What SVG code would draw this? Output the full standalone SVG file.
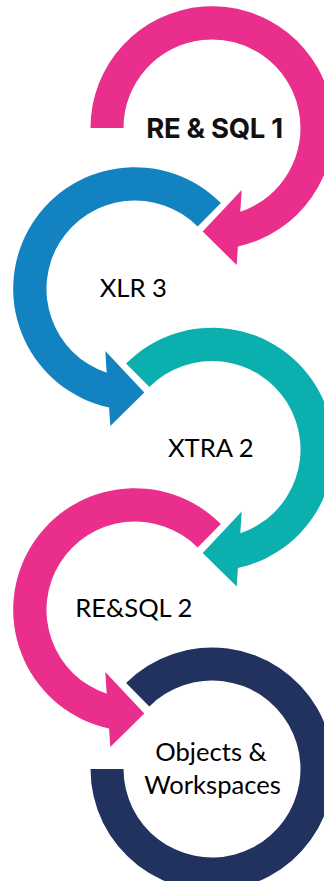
<svg xmlns="http://www.w3.org/2000/svg" xmlns:xlink="http://www.w3.org/1999/xlink" width="324" height="881" viewBox="0 0 324 881">
<style>
.lbl{font-family:Lato,"Open Sans","Liberation Sans",sans-serif;font-size:25.6px;fill:#000;text-anchor:middle}
.bold{font-family:Inter,"Liberation Sans",sans-serif;font-weight:700;font-size:27.5px;fill:#111;text-anchor:middle;letter-spacing:-0.3px}
.pink{fill:#E92E8B}.blue{fill:#1282C0}.teal{fill:#0BAFAE}.navy{fill:#22325F}
</style>
<defs>
<path id="ringR0" d="M -121.5 0 A 121.5 121.5 0 1 1 25.9 118.5 L 24.7 137 L -9.3 103.5 L 29.7 62 L 28.3 83.8 A 88.5 88.5 0 1 0 -88.5 0 Z"/>
<path id="ringR" d="M -85.9 -85.9 A 121.5 121.5 0 1 1 25.9 118.5 L 24.7 137 L -9.3 103.5 L 29.7 62 L 28.3 83.8 A 88.5 88.5 0 1 0 -62.6 -62.6 Z"/>
<path id="ringL" d="M 85.9 -85.9 A 121.5 121.5 0 1 0 -25.9 118.5 L -24.7 137 L 9.3 103.5 L -29.7 62 L -28.3 83.8 A 88.5 88.5 0 1 1 62.6 -62.6 Z"/>
<path id="ringEnd" d="M -85.9 -85.9 A 121.5 121.5 0 1 1 -121.5 0 L -88.5 0 A 88.5 88.5 0 1 0 -62.6 -62.6 Z"/>
</defs>
<rect width="324" height="881" fill="#fff"/>
<g id="node-resql1">
<use href="#ringR0" xlink:href="#ringR0" x="212" y="128" class="pink"/>
<text class="bold" x="214.5" y="138">RE &amp; SQL 1</text>
</g>
<g id="node-xlr3">
<use href="#ringL" xlink:href="#ringL" x="135" y="289" class="blue"/>
<text class="lbl" x="133.3" y="296.7">XLR 3</text>
</g>
<g id="node-xtra2">
<use href="#ringR" xlink:href="#ringR" x="212" y="449.5" class="teal"/>
<text class="lbl" x="210.8" y="456.7">XTRA 2</text>
</g>
<g id="node-resql2">
<use href="#ringL" xlink:href="#ringL" x="135" y="610" class="pink"/>
<text class="lbl" x="133.8" y="617.3">RE&amp;SQL 2</text>
</g>
<g id="node-objects">
<use href="#ringEnd" xlink:href="#ringEnd" x="212" y="769" class="navy"/>
<text class="lbl" x="211" y="760.7">Objects &amp;</text>
<text class="lbl" x="212.5" y="794">Workspaces</text>
</g>
</svg>
